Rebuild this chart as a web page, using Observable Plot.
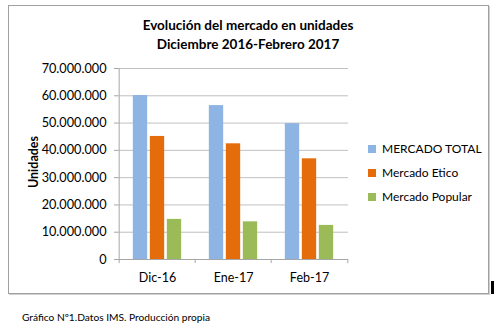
<!DOCTYPE html>
<html><head><meta charset="utf-8">
<script src="https://cdn.jsdelivr.net/npm/d3@7"></script>
<script src="https://cdn.jsdelivr.net/npm/@observablehq/plot@0.6"></script>
<style>
html,body{margin:0;padding:0;background:#fff;}
#wrap{position:relative;width:504px;height:332px;font-family:Lato,"Open Sans",sans-serif;color:#000;overflow:hidden;}
#wrap svg{position:absolute;left:0;top:0;}
.abs{position:absolute;white-space:nowrap;}
#border{position:absolute;left:8px;top:5px;width:479px;height:287px;border:1px solid #a0a0a0;box-shadow:1px 1px 0 #d0d0d0;}
#title{left:0;width:496px;top:16px;text-align:center;font-weight:bold;font-size:13.5px;line-height:19px;}
.leg{font-size:12px;line-height:16px;left:368px;}
.leg span{display:inline-block;width:8px;height:8px;margin-right:6px;vertical-align:0px;}
#caption{left:22px;top:311px;font-size:10.2px;}
#cursor{position:absolute;left:491px;top:281px;width:3px;height:13px;background:#000;}
</style></head>
<body><div id="wrap"></div>
<script>
const months = ["Dic-16", "Ene-17", "Feb-17"];
const seriesNames = ["MERCADO TOTAL", "Mercado Etico", "Mercado Popular"];
const total = [60100000, 56400000, 49800000];
const etico = [45100000, 42400000, 36900000];
const popular = [14700000, 13800000, 12500000];
const yTicks = [0, 10000000, 20000000, 30000000, 40000000, 50000000, 60000000, 70000000];
const colors = ["#8db4e2", "#e46c0a", "#9bbb59"];
const titleLines = ["Evolución del mercado en unidades", "Diciembre 2016-Febrero 2017"];
const yLabel = "Unidades";
const caption = "Gráfico Nº1.Datos IMS. Producción propia";

const seriesValues = [total, etico, popular];
const locale = d3.formatLocale({decimal: ",", thousands: ".", grouping: [3], currency: ["", "€"]});
const fmt = locale.format(",d");

const W = 504, H = 332;
const mL = 118, mR = W - 348, mT = 68, mB = H - 259;
const band = (W - mL - mR) / months.length;
const barW = 15;
const inset = (band - barW) / 2;
const offsets = [-17, 0, 17];

const marks = [
  Plot.ruleY(yTicks.filter(d => d > 0), {stroke: "#c0c0c0", strokeWidth: 1}),
];
seriesValues.forEach((vals, si) => {
  const data = months.map((m, i) => ({month: m, value: vals[i]}));
  marks.push(Plot.barY(data, {x: "month", y: "value", fill: colors[si], dx: offsets[si], insetLeft: inset, insetRight: inset}));
});
// x-axis baseline and category boundary ticks
marks.push(Plot.ruleY([0], {stroke: "#a6a6a6"}));
const tickLen = 1500000;
marks.push(Plot.ruleX(months, {x: d => d, y1: 0, y2: -tickLen, dx: -band / 2, stroke: "#a6a6a6", clip: false}));
marks.push(Plot.ruleX([months[months.length - 1]], {x: d => d, y1: 0, y2: -tickLen, dx: band / 2, stroke: "#a6a6a6", clip: false}));
// y axis line
marks.push(Plot.ruleX([months[0]], {x: d => d, y1: 0, y2: yTicks[yTicks.length - 1], dx: -band / 2, stroke: "#a6a6a6"}));
marks.push(Plot.axisY({ticks: yTicks, tickFormat: fmt, tickSize: 4, tickPadding: 8, stroke: "#a6a6a6", fontSize: 12.7, label: null}));
marks.push(Plot.axisX({tickSize: 0, tickPadding: 14, fontSize: 12.5, label: null}));

const chart = Plot.plot({
  width: W, height: H,
  marginLeft: mL, marginRight: mR, marginTop: mT, marginBottom: mB,
  style: {fontFamily: "Lato, 'Open Sans', sans-serif", color: "#000", background: "transparent", overflow: "visible"},
  x: {domain: months, padding: 0, axis: null},
  y: {domain: [0, 70000000], axis: null},
  marks
});

const wrap = document.getElementById("wrap");
const border = document.createElement("div"); border.id = "border"; wrap.appendChild(border);
wrap.appendChild(chart);

const t = document.createElement("div"); t.id = "title"; t.className = "abs";
t.innerHTML = titleLines.join("<br>"); wrap.appendChild(t);

const yl = document.createElement("div"); yl.className = "abs";
yl.textContent = yLabel;
Object.assign(yl.style, {left: "33px", top: "162px", fontWeight: "bold", fontSize: "12.5px", transform: "translate(-50%,-50%) rotate(-90deg)"});
wrap.appendChild(yl);

const legTops = [141, 165, 189];
seriesNames.forEach((n, i) => {
  const d = document.createElement("div"); d.className = "abs leg";
  d.style.top = legTops[i] + "px";
  d.innerHTML = `<span style="background:${colors[i]}"></span>${n}`;
  wrap.appendChild(d);
});

const c = document.createElement("div"); c.id = "caption"; c.className = "abs";
c.textContent = caption; wrap.appendChild(c);
const cur = document.createElement("div"); cur.id = "cursor"; wrap.appendChild(cur);
</script></body></html>
